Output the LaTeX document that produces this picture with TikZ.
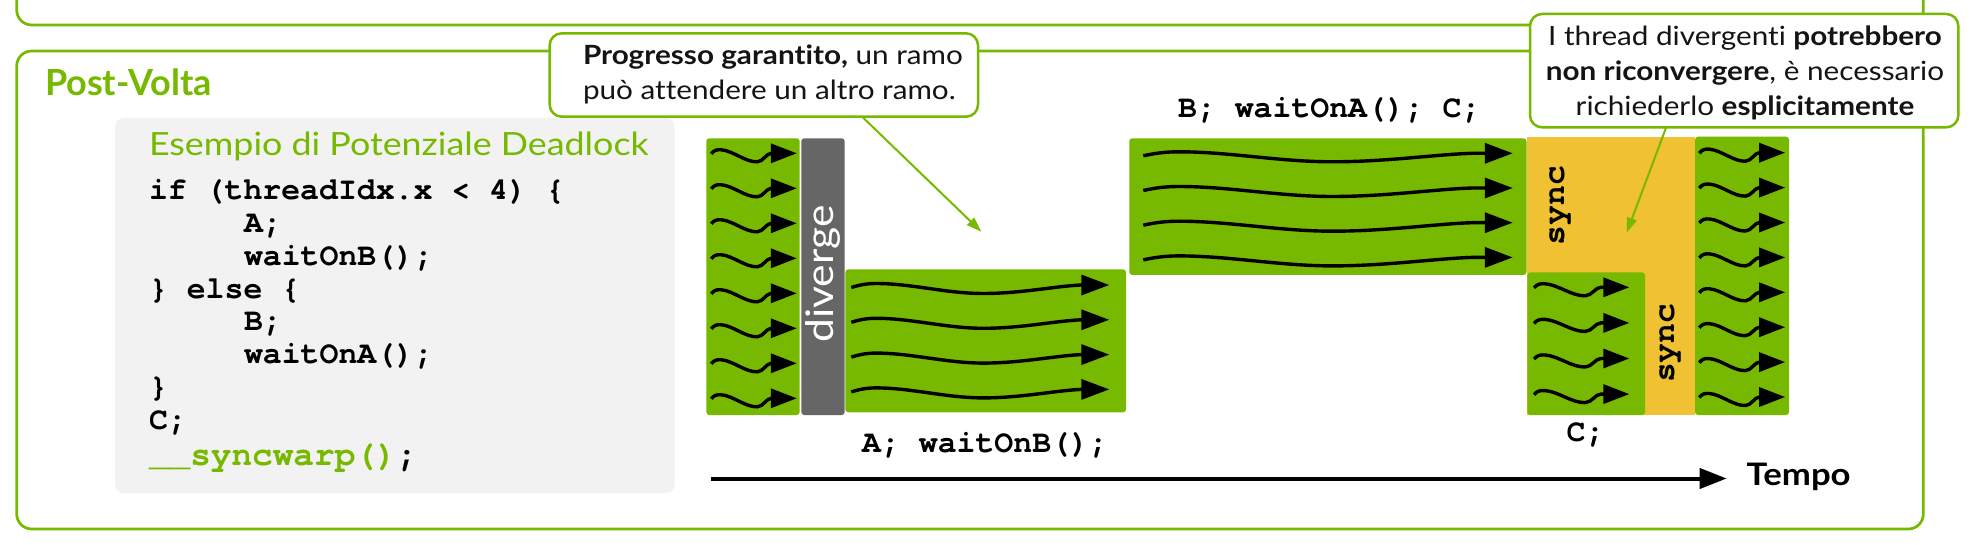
\documentclass[tikz,border=0pt]{standalone}
\usepackage{fontspec}
\setmainfont{Lato}[Ligatures=NoCommon,FakeStretch=1.12]
\newfontfamily\pvfont{Lato}[Ligatures=NoCommon]
\setmonofont{texgyrecursor}[Extension=.otf,UprightFont=*-regular,BoldFont=*-bold]
\usetikzlibrary{arrows.meta}
\definecolor{nvgreen}{RGB}{118,185,0}
\definecolor{syncyel}{RGB}{240,193,50}
\definecolor{divgray}{RGB}{102,102,102}
\definecolor{codebg}{RGB}{242,242,242}
\definecolor{txtdark}{RGB}{20,20,20}

\tikzset{
  wavy/.style={line width=3.4pt, black},
  blk/.style={fill=nvgreen, rounded corners=3pt},
  callout/.style={draw=nvgreen, line width=2.5pt, fill=white, rounded corners=12pt, inner sep=0pt, outer sep=0pt},
  frame/.style={draw=nvgreen, line width=2.7pt, rounded corners=15pt},
  txt/.style={inner sep=0pt, outer sep=0pt},
  code/.style={txt, font=\fontsize{31.5}{32}\selectfont\ttfamily\bfseries, anchor=base west},
  ctext/.style={txt, text=txtdark, font=\fontsize{26.5}{30}\selectfont},
  ptr/.style={draw=nvgreen, line width=2pt, -{Triangle[length=15pt,width=10pt]}, nvgreen},
  axisln/.style={line width=4pt, black, -{Triangle[length=27pt,width=20pt]}},
}

\newcommand\wshort[3]{%
  \begin{scope}[shift={(#1,#2)},xscale=#3]
    \draw[wavy,-{Triangle[length=26pt,width=19pt]}] (0,0.5) .. controls (3,-3.5) and (6,-3.8) .. (10,-3.5) .. controls (22,-2.5) and (34,9) .. (46,8.5) .. controls (52,8.3) and (55,0) .. (60,0) -- (85.5,0);
  \end{scope}}
\newcommand\wlong[3]{%
  \begin{scope}[shift={(#1,#2)},xscale=#3]
    \draw[wavy,-{Triangle[length=28pt,width=20pt]}] (0,2.5) .. controls (8,0) and (15,-1.5) .. (25,-1.5) .. controls (60,-1.5) and (95,8.5) .. (132,8.5) .. controls (170,8.5) and (205,1) .. (230,0) -- (258,0);
  \end{scope}}

\begin{document}
\begin{tikzpicture}[x=1pt,y=-1pt]
\useasboundingbox (0,0) rectangle (1973,545);
\fill[white] (0,0) rectangle (1973,545);

% frames
\draw[frame] (16.7,-100) rectangle (1923.3,25);
\draw[frame] (16.7,51) rectangle (1923.3,529);

\node[txt, anchor=base west, text=nvgreen, font=\fontsize{36}{40}\selectfont\pvfont\bfseries] (pv) at (45,96) {Post-Volta};

% code box
\fill[codebg, rounded corners=9pt] (115,118) rectangle (674.7,493.3);
\node[txt, anchor=base west, text=nvgreen, font=\fontsize{32}{36}\selectfont] (title) at (149,156) {Esempio di Potenziale Deadlock};
\node[code] (l1) at (149,200) {if (threadIdx.x < 4) \{};
\node[code] (l2) at (244,232.7) {A;};
\node[code] (l3) at (244,265.4) {waitOnB();};
\node[code] (l4) at (149,298.1) {\} else \{};
\node[code] (l5) at (244,330.8) {B;};
\node[code] (l6) at (244,363.5) {waitOnA();};
\node[code] (l7) at (149,396.2) {\}};
\node[code] (l8) at (149,429) {C;};
\node[code, font=\fontsize{34.4}{36}\selectfont\ttfamily\bfseries] (l9) at (149,465) {\textcolor{nvgreen}{\_\_syncwarp()};};

% blocks
\fill[blk] (706.3,138.3) rectangle (799.7,415);
\fill[divgray, rounded corners=3pt] (801.3,138.3) rectangle (844.7,415);
\fill[blk] (845.3,269.3) rectangle (1126,412.3);
\fill[blk] (1129.3,138.3) rectangle (1526.5,275);
\fill[syncyel] (1527.3,136.7) rectangle (1695,415);
\fill[blk] (1527.3,272.3) rectangle (1645,415);
\fill[blk] (1695,136.7) rectangle (1789,415);

\node[txt, rotate=90, text=white, font=\fontsize{38}{40}\selectfont] (div) at (823,274) {diverge};
\node[txt, rotate=90, font=\fontsize{33}{34}\selectfont\ttfamily\bfseries] (s1) at (1560,205.8) {sync};
\node[txt, rotate=90, font=\fontsize{33}{34}\selectfont\ttfamily\bfseries] (s2) at (1670,343.3) {sync};

% wavy arrows
\foreach \i in {0,...,7} {\wshort{711.3}{153.3+35*\i}{1}}
\foreach \i in {0,...,3} {\wlong{851.3}{285+34.8*\i}{1}}
\foreach \i in {0,...,3} {\wlong{1143.3}{153.3+34.7*\i}{1.432}}
\foreach \i in {0,...,3} {\wshort{1534}{287.3+35.6*\i}{1.115}}
\foreach \i in {0,...,7} {\wshort{1699.3}{152.7+34.9*\i}{1.004}}

% labels
\node[code, anchor=base] (la) at (985,452) {A; waitOnB();};
\node[code, anchor=base] (lb) at (1329.3,118) {B; waitOnA(); C;};
\node[code, anchor=base] (lc) at (1585.5,441.7) {C;};

% time axis
\node[txt, anchor=base west, font=\fontsize{31}{32}\selectfont\bfseries] (tempo) at (1746.7,485) {Tempo};
\coordinate (t0) at (711.3,478.5);
\draw[axisln, shorten >=20pt] (t0) -- (t0 -| tempo.west);

% callouts
\node[callout, minimum width=428.3pt, minimum height=83.4pt] (c1) at (763.85,75) {};
\node[ctext, anchor=base west] (c1a) at (583,65) {\textbf{Progresso garantito,} un ramo};
\node[ctext, anchor=base west] (c1b) at (583,100) {può attendere un altro ramo.};
\coordinate (p1) at (981.3,231.7);
\draw[ptr] (c1.-23.5) -- (p1);

\node[callout, minimum width=428.3pt, minimum height=113.3pt] (c2) at (1744.15,70.65) {};
\node[ctext, anchor=base] (c2a) at (1745,45.7) {I thread divergenti \textbf{potrebbero}};
\node[ctext, anchor=base] (c2b) at (1745,81) {\textbf{non riconvergere}, è necessario};
\node[ctext, anchor=base] (c2c) at (1745,115.7) {richiederlo \textbf{esplicitamente}};
\coordinate (p2) at (1626.7,232.7);
\draw[ptr] (c2.216.75) -- (p2);
\end{tikzpicture}
\end{document}
